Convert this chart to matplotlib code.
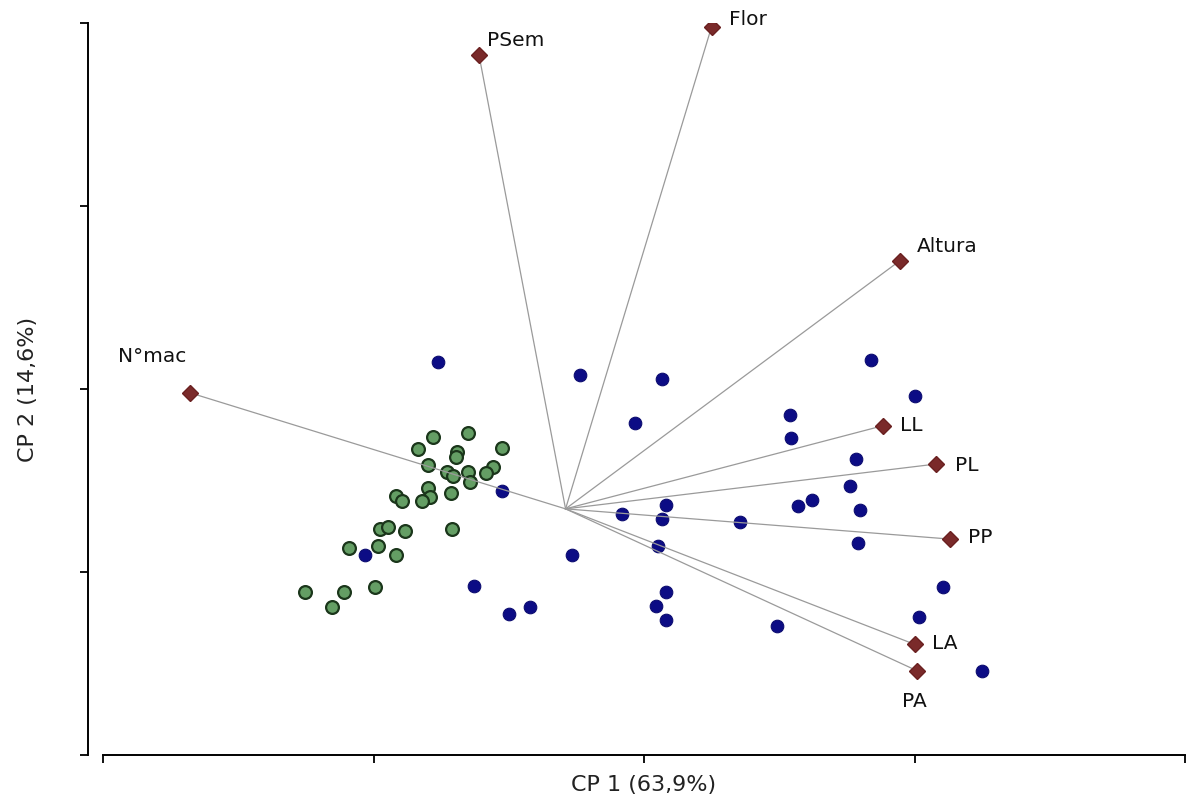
import matplotlib
matplotlib.use("Agg")
import matplotlib.pyplot as plt
import numpy as np

plt.rcParams['font.family'] = ['DejaVu Sans']

# Group 1 (green) PCA scores
green_x = [-1.56, -1.30, -1.67, -1.05, -1.38, -1.39, -1.60, -1.12, -1.17, -1.46,
           -1.41, -1.30, -1.29, -1.60, -1.58, -1.64, -1.43, -1.83, -1.79, -1.95,
           -1.89, -1.77, -1.42, -2.18, -1.97, -1.83, -2.51, -2.22, -1.99, -2.31]
green_y = [-0.53, -0.48, -0.66, -0.65, -0.69, -0.74, -0.83, -0.85, -0.92, -0.91,
           -0.95, -0.91, -1.02, -1.08, -1.18, -1.22, -1.14, -1.17, -1.22, -1.53,
           -1.51, -1.55, -1.53, -1.74, -1.72, -1.81, -2.22, -2.22, -2.16, -2.38]

# Group 2 (blue) PCA scores
blue_x = [-1.52, -0.47, 0.13, -0.07, -1.05, 0.16, -0.16, 0.13, 0.10, -0.53,
          -1.26, 0.16, 0.09, 0.16, -1.00, -0.84, 1.68, 2.00, 1.08, 1.09,
          1.57, 1.52, 1.24, 1.14, 1.60, 0.71, 1.58, 2.21, 2.03, 0.98,
          2.50, -2.06]
blue_y = [0.30, 0.15, 0.11, -0.37, -1.12, -1.27, -1.37, -1.42, -1.72, -1.81,
          -2.15, -2.22, -2.37, -2.53, -2.46, -2.38, 0.32, -0.08, -0.28, -0.54,
          -0.77, -1.06, -1.21, -1.28, -1.32, -1.45, -1.68, -2.16, -2.49, -2.59,
          -3.08, -1.81]

# Variable loading vectors (origin and tips)
origin = (-0.58, -1.31)
var_names = ['PSem', 'Flor', 'Altura', 'N°mac', 'LL', 'PL', 'PP', 'LA', 'PA']
var_x = [-1.22, 0.50, 1.89, -3.36, 1.77, 2.16, 2.26, 2.00, 2.02]
var_y = [3.65, 3.96, 1.40, -0.04, -0.40, -0.82, -1.64, -2.79, -3.08]

x_ticks = [-4, -2, 0, 2, 4]
y_ticks = [-4, -2, 0, 2, 4]

W, H = 1197, 805
fig = plt.figure(figsize=(W / 100, H / 100), dpi=100)
ax = fig.add_axes([103 / W, (H - 755) / H, (1185 - 103) / W, (755 - 23) / H])
ax.set_xlim(-4, 4)
ax.set_ylim(-4, 4)

ax.scatter(green_x, green_y, s=85, facecolor='#649e64', edgecolor='#1b361b',
           linewidth=1.6, zorder=2)
ax.scatter(blue_x, blue_y, s=82, facecolor='#0c0c85', edgecolor='#0c0c70',
           linewidth=0.8, zorder=2)

for vx, vy in zip(var_x, var_y):
    ax.plot([origin[0], vx], [origin[1], vy], color='#9a9a9a', linewidth=0.9,
            zorder=3)
ax.plot(var_x, var_y, linestyle='none', marker='D', markersize=8.2,
        color='#7a2a2a', markeredgecolor='#6a2020', zorder=4)

label_offsets = {
    'PSem': (8, 15, 'left'),
    'Flor': (17, 7, 'left'),
    'Altura': (17, 14, 'left'),
    'N°mac': (-37, 36, 'center'),
    'LL': (17, 0, 'left'),
    'PL': (19, -1, 'left'),
    'PP': (18, 2, 'left'),
    'LA': (17, 1, 'left'),
    'PA': (-3, -31, 'center'),
}
for name, vx, vy in zip(var_names, var_x, var_y):
    dx, dy, ha = label_offsets[name]
    ax.annotate(name, (vx, vy), xytext=(dx, dy), textcoords='offset pixels',
                ha=ha, va='center', fontsize=14.5, color='#111111', zorder=5)

ax.set_xticks(x_ticks)
ax.set_yticks(y_ticks)
ax.set_xticklabels([])
ax.set_yticklabels([])
ax.tick_params(direction='out', length=6, width=1.3, color='black')

for side in ['top', 'right']:
    ax.spines[side].set_visible(False)
ax.spines['left'].set_position(('outward', 10.8))
ax.spines['left'].set_linewidth(1.4)
ax.spines['bottom'].set_linewidth(1.4)

ax.set_xlabel('CP 1 (63,9%)', fontsize=16, color='#222222')
ax.set_ylabel('CP 2 (14,6%)', fontsize=16, color='#222222')
ax.xaxis.set_label_coords(0.5, -0.027)
ax.yaxis.set_label_coords(-0.060, 0.5)

fig.savefig('out.png', dpi=100, facecolor='white')
